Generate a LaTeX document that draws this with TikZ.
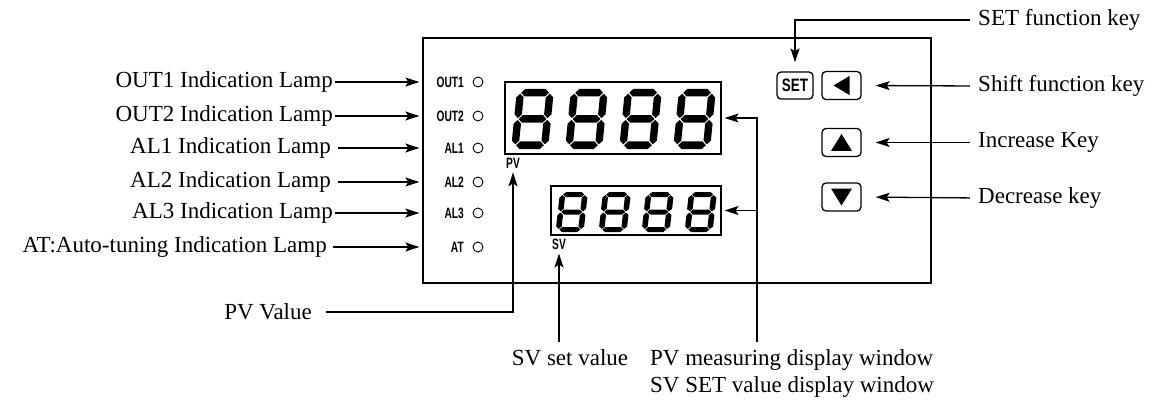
\documentclass[tikz,border=0pt]{standalone}
\usepackage{fontspec}
\setmainfont{Liberation Serif}
\setsansfont{Liberation Sans}
\usetikzlibrary{positioning, arrows.meta}

\newcommand\narrowtxt[1]{\scalebox{0.68}[1]{#1}}

\tikzset{
  lbl/.style={font=\fontsize{23}{27}\selectfont, inner sep=0pt},
  tag/.style={font=\sffamily\bfseries\fontsize{15}{15}\selectfont, inner sep=0pt},
  arr/.style={-{Stealth[length=14pt, width=9pt, inset=3pt]}, line width=1.3pt},
  lamp/.style={draw, circle, line width=0.9pt, minimum size=10pt, inner sep=0pt},
  keybox/.style={draw, line width=1.3pt, rounded corners=4pt, minimum width=39pt, minimum height=28pt, inner sep=0pt},
  segwin/.style={draw, line width=1.1pt, inner sep=0pt},
  pics/segdigit/.style={code={
    \foreach \yy in {0.1,0.8,1.5}
      \fill (0.125,\yy) -- (0.225,\yy-0.1) -- (0.775,\yy-0.1) -- (0.875,\yy) -- (0.775,\yy+0.1) -- (0.225,\yy+0.1) -- cycle;
    \foreach \xx in {0.1,0.9}
      \foreach \ya/\yb in {0.125/0.775,0.825/1.475}
        \fill (\xx,\ya) -- (\xx+0.1,\ya+0.1) -- (\xx+0.1,\yb-0.1) -- (\xx,\yb) -- (\xx-0.1,\yb-0.1) -- (\xx-0.1,\ya+0.1) -- cycle;
  }}
}

\begin{document}
\begin{tikzpicture}[x=1pt, y=-1pt]
    \useasboundingbox (0,0) rectangle (1151,401);

    % front panel
    \node [draw, line width=1.3pt, minimum width=508pt, minimum height=245pt, inner sep=0pt] (panel) at (677,160.5) {};

    % display windows
    \node [segwin, minimum width=216pt, minimum height=72pt] (pvwin) at (613,118) {};
    \node [segwin, minimum width=170pt, minimum height=49pt] (svwin) at (636,210.5) {};

    \pic [xscale=37, yscale=37.5, xslant=0.1] at (517,89) {segdigit};
    \pic [xscale=37, yscale=37.5, xslant=0.1] at (571,89) {segdigit};
    \pic [xscale=37, yscale=37.5, xslant=0.1] at (625,89) {segdigit};
    \pic [xscale=37, yscale=37.5, xslant=0.1] at (679,89) {segdigit};

    \pic [xscale=28, yscale=25, xslant=0.1] at (560,192) {segdigit};
    \pic [xscale=28, yscale=25, xslant=0.1] at (603,192) {segdigit};
    \pic [xscale=28, yscale=25, xslant=0.1] at (646,192) {segdigit};
    \pic [xscale=28, yscale=25, xslant=0.1] at (689,192) {segdigit};

    \node [tag] (pvtag) at (513,163) {\narrowtxt{PV}};
    \node [tag] (svtag) at (559,244) {\narrowtxt{SV}};

    % lamps
    \node [tag, anchor=east] (out1) at (464,82) {\narrowtxt{OUT1}};
    \node [tag, anchor=east] (out2) at (464,116) {\narrowtxt{OUT2}};
    \node [tag, anchor=east] (al1) at (464,148) {\narrowtxt{AL1}};
    \node [tag, anchor=east] (al2) at (464,182) {\narrowtxt{AL2}};
    \node [tag, anchor=east] (al3) at (464,213) {\narrowtxt{AL3}};
    \node [tag, anchor=east] (at) at (464,247) {\narrowtxt{AT}};

    \node [lamp] (lout1) at (478,82) {};
    \node [lamp] (lout2) at (478,116) {};
    \node [lamp] (lal1) at (478,148) {};
    \node [lamp] (lal2) at (478,182) {};
    \node [lamp] (lal3) at (478,213) {};
    \node [lamp] (lat) at (478,247) {};

    % keys
    \node [keybox, minimum width=36pt, minimum height=27pt, font=\sffamily\bfseries\fontsize{18}{18}\selectfont] (setkey) at (795,85.5) {\scalebox{0.75}[1]{SET}};
    \node [keybox] (leftkey) at (841.5,85.5) {};
    \node [keybox] (upkey) at (841.5,142.5) {};
    \node [keybox] (downkey) at (841.5,197) {};

    \fill (leftkey.center) ++(-8,0) -- ++(16,-9.5) -- ++(0,19) -- cycle;
    \fill (upkey.center) ++(0,-8.5) -- ++(10.5,17) -- ++(-21,0) -- cycle;
    \fill (downkey.center) ++(0,8.5) -- ++(10.5,-17) -- ++(-21,0) -- cycle;

    % left labels
    \node [lbl, anchor=east] (out1txt) at (333,82) {OUT1 Indication Lamp};
    \node [lbl, anchor=east] (out2txt) at (333,116) {OUT2 Indication Lamp};
    \node [lbl, anchor=east] (al1txt) at (331,148) {AL1 Indication Lamp};
    \node [lbl, anchor=east] (al2txt) at (331,182) {AL2 Indication Lamp};
    \node [lbl, anchor=east] (al3txt) at (333,213) {AL3 Indication Lamp};
    \node [lbl, anchor=east] (attxt) at (327,247) {AT:Auto-tuning Indication Lamp};

    \draw [arr, shorten <=2pt, shorten >=3pt] (out1txt.east) -- (out1txt.east -| panel.west);
    \draw [arr, shorten <=2pt, shorten >=3pt] (out2txt.east) -- (out2txt.east -| panel.west);
    \draw [arr, shorten <=7pt, shorten >=3pt] (al1txt.east) -- (al1txt.east -| panel.west);
    \draw [arr, shorten <=7pt, shorten >=3pt] (al2txt.east) -- (al2txt.east -| panel.west);
    \draw [arr, shorten <=2pt, shorten >=3pt] (al3txt.east) -- (al3txt.east -| panel.west);
    \draw [arr, shorten <=6pt, shorten >=3pt] (attxt.east) -- (attxt.east -| panel.west);

    % right labels
    \node [lbl, anchor=west] (setfk) at (978,20) {SET function key};
    \node [lbl, anchor=west] (shiftfk) at (978,86) {Shift function key};
    \node [lbl, anchor=west] (incfk) at (978,142.5) {Increase Key};
    \node [lbl, anchor=west] (decfk) at (978,198) {Decrease key};

    \draw [arr, shorten <=8pt, shorten >=9pt] (setfk.west) -| (setkey.north);
    \draw [arr, shorten <=8pt, shorten >=14pt] (shiftfk.west) -- (leftkey.east);
    \draw [arr, shorten <=8pt, shorten >=14pt] (incfk.west) -- (upkey.east);
    \draw [arr, shorten <=8pt, shorten >=14pt] (decfk.west) -- (downkey.east);

    % bottom labels
    \node [lbl, anchor=east] (pvval) at (312,312) {PV Value};
    \draw [arr, shorten <=14pt, shorten >=4pt] (pvval.east) -| (pvtag.south);

    \node [lbl, anchor=north] (svset) at (570,349) {SV set value};
    \draw [arr, shorten <=7pt, shorten >=4pt] (svset.north -| svtag.south) -- (svtag.south);

    \node [lbl, anchor=north west, align=left] (wintxt) at (650,349) {PV measuring display window\\SV SET value display window};
    \coordinate (joint) at (757,118);
    \draw [arr, shorten <=7pt, shorten >=3pt] (wintxt.north -| joint) -- (joint) -- (pvwin.east);
    \draw [arr, shorten >=3pt] (joint |- svwin.east) -- (svwin.east);
\end{tikzpicture}
\end{document}
